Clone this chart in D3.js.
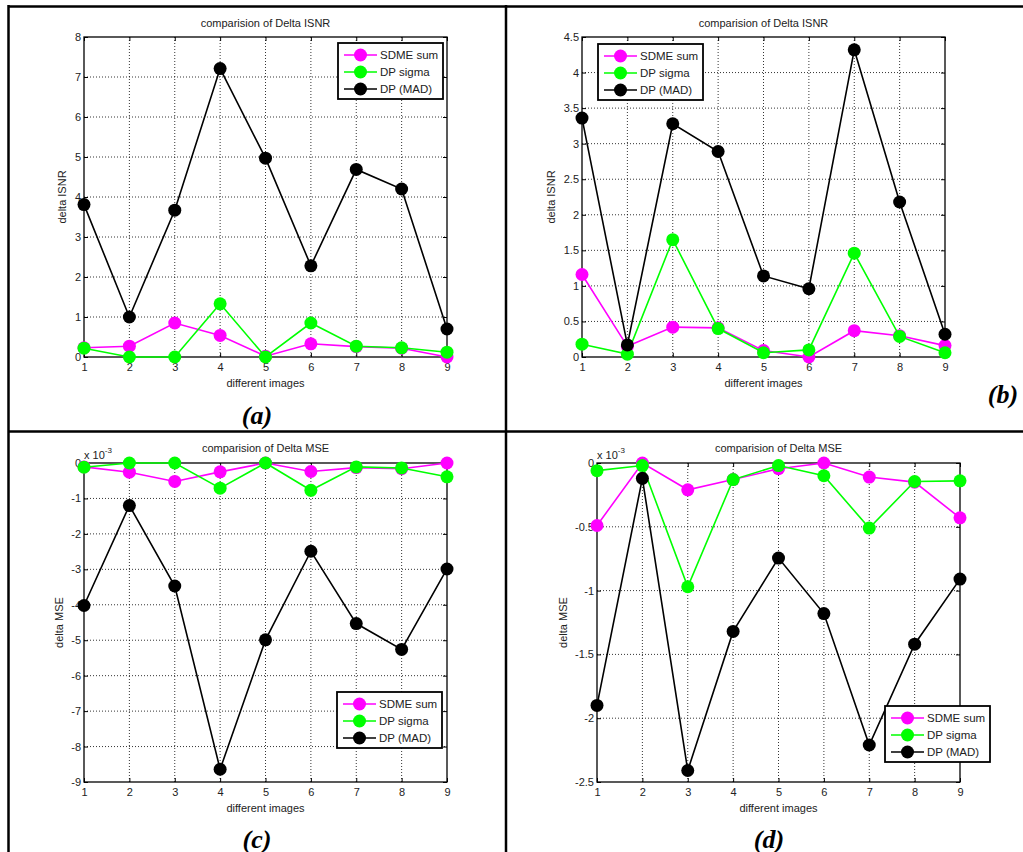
<!DOCTYPE html>
<html>
<head>
<meta charset="utf-8">
<script src="https://cdn.jsdelivr.net/npm/d3@7"></script>
<style>
  html, body { margin: 0; padding: 0; background: #fff; }
  svg { display: block; }
  text { font-family: "Liberation Sans", Arial, sans-serif; fill: #222; }
  text.tag { font-family: "Liberation Serif", "Times New Roman", serif; font-weight: bold; font-style: italic; fill: #000; }
</style>
</head>
<body>
<script>
// ---------------- DATA ----------------
const categories = [1, 2, 3, 4, 5, 6, 7, 8, 9];
const seriesNames = ["SDME sum", "DP sigma", "DP (MAD)"];

// (a) Delta ISNR
const isnrA_sdme  = [0.23, 0.27, 0.85, 0.54, 0.02, 0.33, 0.26, 0.22, 0.00];
const isnrA_sigma = [0.22, 0.00, 0.00, 1.33, 0.00, 0.85, 0.27, 0.23, 0.12];
const isnrA_mad   = [3.81, 1.00, 3.67, 7.21, 4.97, 2.28, 4.69, 4.20, 0.70];
const isnrA_ticks = [0, 1, 2, 3, 4, 5, 6, 7, 8];

// (b) Delta ISNR
const isnrB_sdme  = [1.16, 0.15, 0.42, 0.41, 0.09, 0.00, 0.37, 0.30, 0.16];
const isnrB_sigma = [0.18, 0.04, 1.65, 0.40, 0.06, 0.10, 1.46, 0.29, 0.06];
const isnrB_mad   = [3.36, 0.17, 3.28, 2.89, 1.14, 0.96, 4.32, 2.18, 0.32];
const isnrB_ticks = [0, 0.5, 1, 1.5, 2, 2.5, 3, 3.5, 4, 4.5];

// (c) Delta MSE (x 10^-3)
const mseC_sdme  = [-0.11, -0.26, -0.52, -0.25, 0.00, -0.24, -0.13, -0.16, 0.00];
const mseC_sigma = [-0.12, 0.00, 0.00, -0.71, 0.00, -0.77, -0.11, -0.14, -0.39];
const mseC_mad   = [-4.02, -1.20, -3.47, -8.64, -4.99, -2.49, -4.53, -5.26, -2.99];
const mseC_ticks = [-9, -8, -7, -6, -5, -4, -3, -2, -1, 0];

// (d) Delta MSE (x 10^-3)
const mseD_sdme  = [-0.49, 0.00, -0.21, -0.13, -0.045, 0.00, -0.11, -0.15, -0.43];
const mseD_sigma = [-0.06, -0.02, -0.97, -0.13, -0.02, -0.10, -0.51, -0.145, -0.14];
const mseD_mad   = [-1.90, -0.12, -2.41, -1.32, -0.745, -1.18, -2.21, -1.42, -0.91];
const mseD_ticks = [-2.5, -2, -1.5, -1, -0.5, 0];

const seriesColors = ["#ff00ff", "#00ff00", "#000000"];

// ---------------- LAYOUT ----------------
const W = 1023, H = 852;
const svg = d3.select("body").append("svg").attr("width", W).attr("height", H);

// table borders
const tbl = svg.append("g").attr("stroke", "#000").attr("stroke-width", 2.5);
tbl.append("line").attr("x1", 8).attr("x2", W).attr("y1", 6.5).attr("y2", 6.5);
tbl.append("line").attr("x1", 8).attr("x2", W).attr("y1", 431.5).attr("y2", 431.5);
tbl.append("line").attr("x1", 8.5).attr("x2", 8.5).attr("y1", 5).attr("y2", H);
tbl.append("line").attr("x1", 506).attr("x2", 506).attr("y1", 5).attr("y2", H);

const panels = [
  { box: [84, 447, 37, 357], dom: [0, 8], ticks: isnrA_ticks, data: [isnrA_sdme, isnrA_sigma, isnrA_mad],
    title: "comparision of Delta ISNR", titleY: 27, ylab: "delta ISNR", ylabX: 62, exp: false,
    legend: [338, 43], tag: "(a)", tagPos: [257, 415] },
  { box: [582, 945, 37, 357], dom: [0, 4.5], ticks: isnrB_ticks, data: [isnrB_sdme, isnrB_sigma, isnrB_mad],
    title: "comparision of Delta ISNR", titleY: 27, ylab: "delta ISNR", ylabX: 551, exp: false,
    legend: [598, 44], tag: "(b)", tagPos: [1003, 394] },
  { box: [84, 447, 463, 782], dom: [-9, 0], ticks: mseC_ticks, data: [mseC_sdme, mseC_sigma, mseC_mad],
    title: "comparision of Delta MSE", titleY: 452, ylab: "delta MSE", ylabX: 59, exp: true,
    legend: [337, 692], tag: "(c)", tagPos: [257, 839] },
  { box: [597, 960, 463, 782], dom: [-2.5, 0], ticks: mseD_ticks, data: [mseD_sdme, mseD_sigma, mseD_mad],
    title: "comparision of Delta MSE", titleY: 452, ylab: "delta MSE", ylabX: 563, exp: true,
    legend: [885, 706], tag: "(d)", tagPos: [769, 839] }
];

const fmt = d => String(Math.round(d * 100) / 100);

panels.forEach(p => {
  const [x0, x1, y0, y1] = p.box;
  const g = svg.append("g");
  const x = d3.scaleLinear().domain([1, 9]).range([x0, x1]);
  const y = d3.scaleLinear().domain(p.dom).range([y1, y0]);

  // grid
  const grid = g.append("g").attr("stroke", "#000").attr("stroke-width", 0.8).attr("stroke-dasharray", "1,2");
  categories.forEach(c => {
    if (c === 1 || c === 9) return;
    grid.append("line").attr("x1", x(c)).attr("x2", x(c)).attr("y1", y0).attr("y2", y1);
  });
  p.ticks.forEach(t => {
    if (t === p.dom[0] || t === p.dom[1]) return;
    grid.append("line").attr("x1", x0).attr("x2", x1).attr("y1", y(t)).attr("y2", y(t));
  });

  // axes with inward ticks (D3 axes)
  const tl = 4;
  g.append("g").attr("transform", `translate(0,${y1})`)
    .call(d3.axisBottom(x).tickValues(categories).tickSizeInner(-tl).tickSizeOuter(0).tickPadding(6).tickFormat(d3.format("d")))
    .call(a => { a.select(".domain").remove(); a.selectAll("text").attr("font-size", 11); });
  g.append("g").attr("transform", `translate(0,${y0})`)
    .call(d3.axisTop(x).tickValues(categories).tickSizeInner(-tl).tickSizeOuter(0).tickFormat(""))
    .call(a => a.select(".domain").remove());
  g.append("g").attr("transform", `translate(${x0},0)`)
    .call(d3.axisLeft(y).tickValues(p.ticks).tickSizeInner(-tl).tickSizeOuter(0).tickPadding(3).tickFormat(fmt))
    .call(a => { a.select(".domain").remove(); a.selectAll("text").attr("font-size", 11); });
  g.append("g").attr("transform", `translate(${x1},0)`)
    .call(d3.axisRight(y).tickValues(p.ticks).tickSizeInner(-tl).tickSizeOuter(0).tickFormat(""))
    .call(a => a.select(".domain").remove());

  // box
  g.append("rect").attr("x", x0).attr("y", y0).attr("width", x1 - x0).attr("height", y1 - y0)
    .attr("fill", "none").attr("stroke", "#000").attr("stroke-width", 1.3);

  // series
  const line = d3.line().x((d, i) => x(categories[i])).y(d => y(d));
  p.data.forEach((s, k) => {
    g.append("path").datum(s).attr("d", line).attr("fill", "none")
      .attr("stroke", seriesColors[k]).attr("stroke-width", 1.6);
    g.selectAll(null).data(s).enter().append("circle")
      .attr("cx", (d, i) => x(categories[i])).attr("cy", d => y(d)).attr("r", 6.5)
      .attr("fill", seriesColors[k]);
  });

  // title & labels
  const cx = (x0 + x1) / 2;
  g.append("text").attr("x", cx).attr("y", p.titleY).attr("text-anchor", "middle").attr("font-size", 11).text(p.title);
  g.append("text").attr("x", cx).attr("y", y1 + 30).attr("text-anchor", "middle").attr("font-size", 11).text("different images");
  g.append("text").attr("transform", `translate(${p.ylabX},${(y0 + y1) / 2}) rotate(-90)`)
    .attr("text-anchor", "middle").attr("dominant-baseline", "central").attr("font-size", 11).text(p.ylab);
  if (p.exp) {
    const t = g.append("text").attr("x", x0).attr("y", y0 - 4).attr("font-size", 11);
    t.append("tspan").text("x 10");
    t.append("tspan").attr("dy", -6).attr("font-size", 8).text("-3");
  }

  // legend
  const [lx, ly] = p.legend;
  const lg = g.append("g").attr("transform", `translate(${lx},${ly})`);
  lg.append("rect").attr("width", 105).attr("height", 56).attr("fill", "#fff").attr("stroke", "#000").attr("stroke-width", 1.8);
  seriesNames.forEach((n, k) => {
    const yy = 12 + k * 17;
    lg.append("line").attr("x1", 6).attr("x2", 39).attr("y1", yy).attr("y2", yy)
      .attr("stroke", seriesColors[k]).attr("stroke-width", 1.6);
    lg.append("circle").attr("cx", 22.5).attr("cy", yy).attr("r", 6.5).attr("fill", seriesColors[k]);
    lg.append("text").attr("x", 42).attr("y", yy).attr("dominant-baseline", "central").attr("font-size", 11.5).text(n);
  });

  // panel tag
  svg.append("text").attr("class", "tag").attr("x", p.tagPos[0]).attr("y", p.tagPos[1]).attr("text-anchor", "middle")
    .attr("dominant-baseline", "central").attr("font-size", 26).text(p.tag);
});
</script>
</body>
</html>
